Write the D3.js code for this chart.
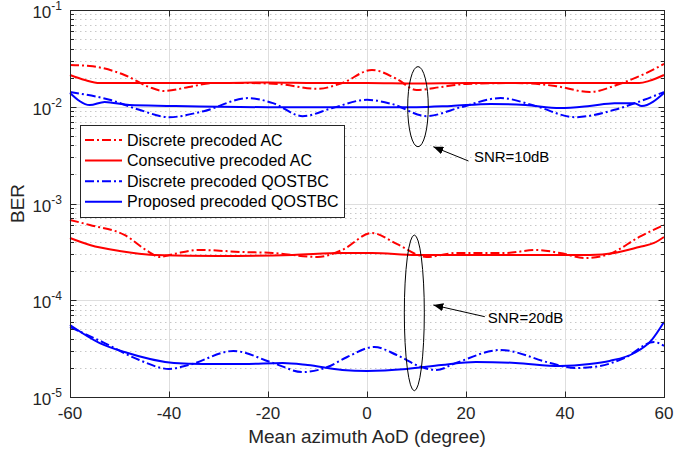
<!DOCTYPE html>
<html><head><meta charset="utf-8">
<script src="https://cdn.jsdelivr.net/npm/d3@7"></script>
<style>body{margin:0;background:#fff} svg{display:block;font-family:"Liberation Sans",Arial,Helvetica,sans-serif}</style>
</head><body><svg id="c" width="674" height="450"></svg>
<script>
// ---------- data ----------
const xTicks = [-60, -40, -20, 0, 20, 40, 60];
const yTickExps = [-1, -2, -3, -4, -5];
const xLabel = "Mean azimuth AoD (degree)";
const yLabel = "BER";
const legendLabels = ["Discrete precoded AC", "Consecutive precoded AC", "Discrete precoded QOSTBC", "Proposed precoded QOSTBC"];

// SNR = 10 dB
const redDash10X = [-60,-56,-49,-44,-41,-36,-31,-25,-18,-10,-5,1,6,10,15,20,30,38,45,51,56,60];
const redDash10Y = [0.0270,0.0264,0.0213,0.0160,0.01455,0.0160,0.0176,0.0176,0.0172,0.0153,0.0176,0.0240,0.0194,0.0149,0.0160,0.0172,0.0176,0.0164,0.0142,0.0172,0.0218,0.0277];
const redSolid10X = [-60,-57,-54,-50,-40,-30,-20,-10,0,10,20,30,40,50,55,57,60];
const redSolid10Y = [0.0213,0.0189,0.0176,0.0176,0.0176,0.0176,0.0178,0.0176,0.0176,0.0174,0.0176,0.0176,0.0176,0.0176,0.0176,0.0185,0.0213];
const blueDash10X = [-60,-52,-46,-40,-33,-24,-19,-13,-7,0,5,12,19,27,34,42,50,56,60];
const blueDash10Y = [0.0142,0.0118,0.0093,0.0078,0.0090,0.0123,0.0109,0.0080,0.0097,0.0118,0.0107,0.0080,0.0099,0.0123,0.0102,0.0078,0.0093,0.0118,0.0142];
const blueSolid10X = [-60,-56,-53,-48,-40,-20,0,10,17,25,32,39,45,50,54,55.5,60];
const blueSolid10Y = [0.0139,0.0104,0.0112,0.0104,0.0102,0.0099,0.0099,0.0099,0.0102,0.0107,0.0104,0.0097,0.0102,0.0109,0.0109,0.0102,0.0139];

// SNR = 20 dB
const redDash20X = [-60,-56,-49,-44,-42,-39,-34,-25,-19,-10,-5,1,6,12,18,28,34,39,44,49,55,60];
const redDash20Y = [6.75e-4,6.0e-4,4.73e-4,3.15e-4,2.80e-4,3.01e-4,3.31e-4,3.15e-4,3.08e-4,2.80e-4,3.31e-4,4.96e-4,3.82e-4,2.80e-4,3.08e-4,3.08e-4,3.31e-4,3.08e-4,2.73e-4,3.01e-4,4.51e-4,6.0e-4];
const redSolid20X = [-60,-56,-50,-43,-30,-15,-5,1,10,30,45,50,55,58,60];
const redSolid20Y = [4.40e-4,3.73e-4,3.23e-4,2.94e-4,2.87e-4,2.94e-4,3.08e-4,3.08e-4,2.94e-4,2.94e-4,2.94e-4,3.08e-4,3.55e-4,3.91e-4,4.51e-4];
const blueDash20X = [-60,-53,-46,-40,-36,-27,-19,-13,-8,-4,1.5,6,11,14,18,27,37,42,47,52,58,60];
const blueDash20Y = [5.29e-5,3.61e-5,2.41e-5,1.95e-5,2.14e-5,2.99e-5,2.25e-5,1.81e-5,2.04e-5,2.59e-5,3.29e-5,2.72e-5,2.04e-5,1.90e-5,2.25e-5,3.06e-5,2.25e-5,1.99e-5,2.09e-5,2.53e-5,3.70e-5,3.37e-5];
const blueSolid20X = [-60,-54,-49,-39,-33,-25,-17,-12,-5,0,8,15,22,30,39,45,49,54,57.5,60];
const blueSolid20Y = [5.55e-5,3.61e-5,2.92e-5,2.25e-5,2.19e-5,2.19e-5,2.25e-5,2.14e-5,1.90e-5,1.86e-5,1.95e-5,2.14e-5,2.30e-5,2.25e-5,2.09e-5,2.19e-5,2.36e-5,2.85e-5,3.88e-5,5.96e-5];

// annotations (data coordinates)
const ellipseCX = [10.3, 9.56];
const ellipseHalfW = [2.08, 2.02];
const ellipseTop = [0.0260, 4.72e-4];
const ellipseBottom = [0.00386, 1.16e-5];
const arrowTipX = [13.4, 13.4];
const arrowTipY = [0.00386, 8.93e-5];
const arrowTailX = [20.5, 23.8];
const arrowTailY = [0.00275, 6.76e-5];
const noteText = ["SNR=10dB", "SNR=20dB"];
const noteX = [21.6, 24.4];
const noteY = [0.00302, 6.55e-5];

// ---------- chart ----------
const W = 674, H = 450;
const m = {l: 70, r: 10, t: 10, b: 53};
const svg = d3.select("#c");
const x = d3.scaleLinear().domain([-60, 60]).range([m.l, W - m.r]);
const y = d3.scaleLog().domain([1e-5, 1e-1]).range([H - m.b, m.t]);
const axisCol = "#262626";

const styles = [
  {color: "#ff0000", dash: "9,3,2,3"},
  {color: "#ff0000", dash: null},
  {color: "#0000ff", dash: "9,3,2,3"},
  {color: "#0000ff", dash: null}
];
const seriesList = [
  {xs: redDash10X, ys: redDash10Y, s: 0},
  {xs: redSolid10X, ys: redSolid10Y, s: 1},
  {xs: blueDash10X, ys: blueDash10Y, s: 2},
  {xs: blueSolid10X, ys: blueSolid10Y, s: 3},
  {xs: redDash20X, ys: redDash20Y, s: 0},
  {xs: redSolid20X, ys: redSolid20Y, s: 1},
  {xs: blueDash20X, ys: blueDash20Y, s: 2},
  {xs: blueSolid20X, ys: blueSolid20Y, s: 3}
];

// minor grid
const minorVals = [];
for (let e = -5; e <= -2; e++) for (let k = 2; k <= 9; k++) minorVals.push(k * Math.pow(10, e));
const g = svg.append("g");
g.selectAll("line.mg").data(minorVals).enter().append("line")
  .attr("x1", m.l).attr("x2", W - m.r)
  .attr("y1", d => Math.round(y(d)) + 0.5).attr("y2", d => Math.round(y(d)) + 0.5)
  .attr("stroke", "#c8c8c8").attr("stroke-width", 1).attr("stroke-dasharray", "1.5,3.5");
// major grid
const majorVals = yTickExps.map(e => Math.pow(10, e));
g.selectAll("line.hy").data(majorVals).enter().append("line")
  .attr("x1", m.l).attr("x2", W - m.r)
  .attr("y1", d => Math.round(y(d)) + 0.5).attr("y2", d => Math.round(y(d)) + 0.5)
  .attr("stroke", "#dedede").attr("stroke-width", 1);
g.selectAll("line.vx").data(xTicks).enter().append("line")
  .attr("y1", m.t).attr("y2", H - m.b)
  .attr("x1", d => Math.round(x(d)) + 0.5).attr("x2", d => Math.round(x(d)) + 0.5)
  .attr("stroke", "#dedede").attr("stroke-width", 1);

// curves
const line = d3.line().x(d => x(d[0])).y(d => y(d[1])).curve(d3.curveMonotoneX);
seriesList.forEach(sr => {
  const pts = sr.xs.map((v, i) => [v, sr.ys[i]]);
  const st = styles[sr.s];
  svg.append("path").attr("d", line(pts)).attr("fill", "none")
    .attr("stroke", st.color).attr("stroke-width", 2)
    .attr("stroke-dasharray", st.dash).attr("stroke-linejoin", "round");
});

// axes box and ticks
const x0 = m.l + 0.5, x1 = W - m.r + 0.5, y0 = m.t + 0.5, y1 = H - m.b + 0.5;
svg.append("rect").attr("x", x0).attr("y", y0).attr("width", x1 - x0).attr("height", y1 - y0)
  .attr("fill", "none").attr("stroke", axisCol).attr("stroke-width", 1);
const tk = svg.append("g").attr("stroke", axisCol).attr("stroke-width", 1);
xTicks.forEach(t => {
  const px = Math.round(x(t)) + 0.5;
  tk.append("line").attr("x1", px).attr("x2", px).attr("y1", y1).attr("y2", y1 - 6);
  tk.append("line").attr("x1", px).attr("x2", px).attr("y1", y0).attr("y2", y0 + 6);
});
majorVals.forEach(v => {
  const py = Math.round(y(v)) + 0.5;
  tk.append("line").attr("x1", x0).attr("x2", x0 + 6).attr("y1", py).attr("y2", py);
  tk.append("line").attr("x1", x1).attr("x2", x1 - 6).attr("y1", py).attr("y2", py);
});
minorVals.forEach(v => {
  const py = Math.round(y(v)) + 0.5;
  tk.append("line").attr("x1", x0).attr("x2", x0 + 3.5).attr("y1", py).attr("y2", py);
  tk.append("line").attr("x1", x1).attr("x2", x1 - 3.5).attr("y1", py).attr("y2", py);
});

// tick labels
svg.selectAll("text.xt").data(xTicks).enter().append("text")
  .attr("x", d => x(d)).attr("y", H - m.b + 22).attr("text-anchor", "middle")
  .attr("font-size", 17).attr("fill", axisCol).text(d => d);
yTickExps.forEach(e => {
  const t = svg.append("text").attr("x", m.l - 8).attr("y", y(Math.pow(10, e)) + 8)
    .attr("text-anchor", "end").attr("font-size", 17).attr("fill", axisCol);
  t.append("tspan").text("10");
  t.append("tspan").attr("dy", -8).attr("font-size", 12).text(String(e));
});

// axis labels
svg.append("text").attr("x", (m.l + W - m.r) / 2).attr("y", H - 7).attr("text-anchor", "middle")
  .attr("font-size", 19).attr("fill", axisCol).text(xLabel);
svg.append("text").attr("transform", `translate(24,${(m.t + H - m.b) / 2}) rotate(-90)`)
  .attr("text-anchor", "middle").attr("font-size", 19).attr("fill", axisCol).text(yLabel);

// legend
const lg = svg.append("g");
lg.append("rect").attr("x", 80.5).attr("y", 125.5).attr("width", 264).attr("height", 92)
  .attr("fill", "#fff").attr("stroke", axisCol).attr("stroke-width", 1);
legendLabels.forEach((lab, i) => {
  const cy = 140 + i * 20.6;
  const st = styles[i];
  lg.append("line").attr("x1", 85).attr("x2", 122).attr("y1", cy).attr("y2", cy)
    .attr("stroke", st.color).attr("stroke-width", 2).attr("stroke-dasharray", st.dash);
  lg.append("text").attr("x", 127).attr("y", cy + 5.5).attr("font-size", 16).attr("fill", "#000").text(lab);
});

// annotations
const defs = svg.append("defs");
defs.append("marker").attr("id", "ah").attr("viewBox", "0 0 10 8").attr("refX", 10).attr("refY", 4)
  .attr("markerWidth", 10).attr("markerHeight", 8).attr("markerUnits", "userSpaceOnUse").attr("orient", "auto")
  .append("path").attr("d", "M0,0 L10,4 L0,8 Z").attr("fill", "#000");
ellipseCX.forEach((cx, i) => {
  const yt = y(ellipseTop[i]), yb = y(ellipseBottom[i]);
  svg.append("ellipse").attr("cx", x(cx)).attr("cy", (yt + yb) / 2)
    .attr("rx", x(cx + ellipseHalfW[i]) - x(cx)).attr("ry", (yb - yt) / 2)
    .attr("fill", "none").attr("stroke", "#000").attr("stroke-width", 1);
  svg.append("line").attr("x1", x(arrowTailX[i])).attr("y1", y(arrowTailY[i]))
    .attr("x2", x(arrowTipX[i])).attr("y2", y(arrowTipY[i]))
    .attr("stroke", "#000").attr("stroke-width", 1).attr("marker-end", "url(#ah)");
  svg.append("text").attr("x", x(noteX[i])).attr("y", y(noteY[i])).attr("dy", "0.36em")
    .attr("font-size", 15).attr("fill", "#000").text(noteText[i]);
});
</script></body></html>
